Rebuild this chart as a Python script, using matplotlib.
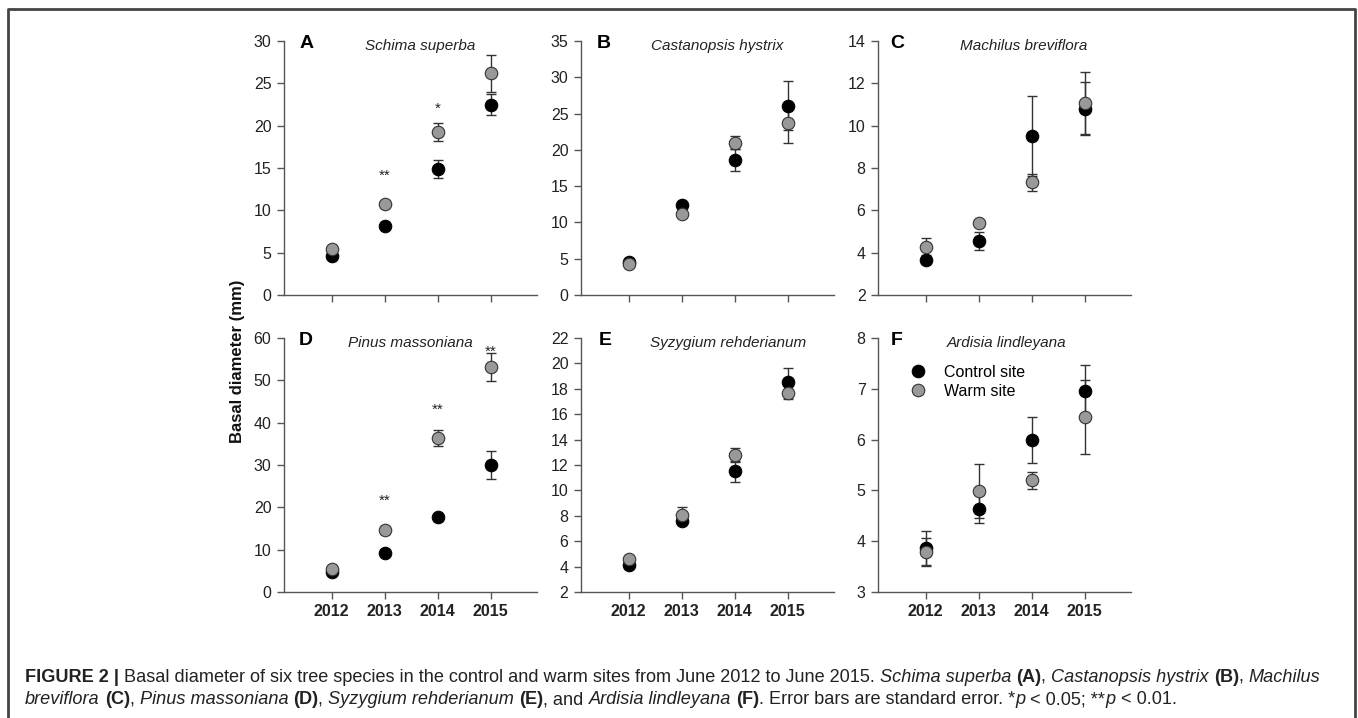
import matplotlib
matplotlib.use('Agg')
import matplotlib.pyplot as plt
import matplotlib.transforms as mtransforms
from matplotlib.lines import Line2D

plt.rcParams['font.family'] = ['Liberation Sans', 'DejaVu Sans']

years = [2012, 2013, 2014, 2015]
letters = ['A', 'B', 'C', 'D', 'E', 'F']
species = ['Schima superba', 'Castanopsis hystrix', 'Machilus breviflora',
           'Pinus massoniana', 'Syzygium rehderianum', 'Ardisia lindleyana']

# means and standard errors, one row per panel (A..F)
control_mean = [[4.6, 8.1, 14.9, 22.5],
                [4.6, 12.4, 18.6, 26.1],
                [3.67, 4.55, 9.5, 10.8],
                [4.7, 9.3, 17.6, 30.0],
                [4.1, 7.6, 11.5, 18.5],
                [3.87, 4.63, 5.99, 6.96]]
control_se = [[0.2, 0.3, 1.05, 1.26],
              [0.2, 0.4, 1.5, 3.4],
              [0.1, 0.43, 1.89, 1.25],
              [0.4, 0.6, 0.9, 3.3],
              [0.1, 0.2, 0.8, 1.17],
              [0.33, 0.28, 0.45, 0.5]]
warm_mean = [[5.4, 10.8, 19.2, 26.2],
             [4.3, 11.2, 21.0, 23.7],
             [4.28, 5.4, 7.32, 11.07],
             [5.5, 14.6, 36.3, 53.1],
             [4.6, 8.1, 12.8, 17.7],
             [3.79, 4.98, 5.2, 6.45]]
warm_se = [[0.2, 0.3, 1.07, 2.2],
           [0.2, 0.4, 0.9, 2.75],
           [0.4, 0.1, 0.41, 1.45],
           [0.4, 0.8, 1.85, 3.3],
           [0.1, 0.63, 0.55, 0.5],
           [0.27, 0.53, 0.17, 0.73]]

y_limits = [(0, 30), (0, 35), (2, 14), (0, 60), (2, 22), (3, 8)]
y_steps = [5, 5, 2, 10, 2, 1]

# significance marks: (year, height, label)
sig_marks = [[(2013, 14.1, '**'), (2014, 22.0, '*')],
             [], [],
             [(2013, 21.5, '**'), (2014, 43.1, '**'), (2015, 56.7, '**')],
             [], []]

fig = plt.figure(figsize=(13.58, 7.18), dpi=100)
W, H = 1358, 718

# outer frame (top, left, right)
fig.add_artist(Line2D([8 / W, 8 / W, 1355 / W, 1355 / W], [0, 1 - 8.5 / H, 1 - 8.5 / H, 0],
                      transform=fig.transFigure, color='#444444', lw=2))

lefts = [284, 581, 878]
tops = [41, 338]
aw, ah = 253, 254
letter_x = [0.09, 0.09, 0.075, 0.087, 0.095, 0.075]
name_x = [0.54, 0.54, 0.575, 0.50, 0.58, 0.51]

axes = []
for i in range(6):
    r, c = divmod(i, 3)
    ax = fig.add_axes([lefts[c] / W, 1 - (tops[r] + ah) / H, aw / W, ah / H])
    axes.append(ax)
    ax.errorbar(years, control_mean[i], yerr=control_se[i], fmt='none',
                ecolor='#333333', elinewidth=1, capsize=3.5, capthick=1, zorder=2)
    ax.errorbar(years, warm_mean[i], yerr=warm_se[i], fmt='none',
                ecolor='#333333', elinewidth=1, capsize=3.5, capthick=1, zorder=2)
    ax.plot(years, control_mean[i], 'o', ms=9, mfc='black', mec='black',
            mew=0.8, ls='none', zorder=3, label='Control site')
    ax.plot(years, warm_mean[i], 'o', ms=9, mfc='#999999', mec='#333333',
            mew=0.8, ls='none', zorder=4, label='Warm site')
    lo, hi = y_limits[i]
    ax.set_ylim(lo, hi)
    ax.set_yticks(range(lo, hi + 1, y_steps[i]))
    ax.set_xlim(2011.1, 2015.87)
    ax.set_xticks(years)
    if r == 1:
        ax.set_xticklabels([str(y) for y in years], fontweight='bold', fontsize=11.5)
    else:
        ax.set_xticklabels([])
    for s in ['top', 'right']:
        ax.spines[s].set_visible(False)
    for s in ['left', 'bottom']:
        ax.spines[s].set_color('#555555')
        ax.spines[s].set_linewidth(1)
    ax.tick_params(direction='out', length=5, width=1, color='#555555',
                   labelsize=11.5, labelcolor='#222222', pad=4)
    ax.text(letter_x[i], 0.99, letters[i], transform=ax.transAxes, fontsize=14,
            fontweight='bold', ha='center', va='center', color='black')
    ax.text(name_x[i], 0.98, species[i], transform=ax.transAxes, fontsize=11,
            fontstyle='italic', ha='center', va='center', color='#222222')
    for yr, yv, lab in sig_marks[i]:
        ax.text(yr, yv, lab, fontsize=11, ha='center', va='center', color='#222222')

axes[5].legend(loc='upper left', bbox_to_anchor=(0.095, 0.92), frameon=False,
               fontsize=11.5, handlelength=1.2, handletextpad=1.0, labelspacing=0.25,
               borderaxespad=0)

fig.text(238 / W, 1 - 361 / H, 'Basal diameter (mm)', rotation=90, fontsize=12,
         fontweight='bold', ha='center', va='center', color='#111111')

# caption with mixed styles
line1 = [('FIGURE 2 | ', 'b'),
         ('Basal diameter of six tree species in the control and warm sites from June 2012 to June 2015. ', 'n'),
         ('Schima superba', 'i'), (' ', 'n'), ('(A)', 'b'), (', ', 'n'),
         ('Castanopsis hystrix', 'i'), (' ', 'n'), ('(B)', 'b'), (', ', 'n'),
         ('Machilus', 'i')]
line2 = [('breviflora', 'i'), (' ', 'n'), ('(C)', 'b'), (', ', 'n'),
         ('Pinus massoniana', 'i'), (' ', 'n'), ('(D)', 'b'), (', ', 'n'),
         ('Syzygium rehderianum', 'i'), (' ', 'n'), ('(E)', 'b'), (', and ', 'n'),
         ('Ardisia lindleyana', 'i'), (' ', 'n'), ('(F)', 'b'),
         ('. Error bars are standard error. *', 'n'), ('p', 'i'), (' < 0.05; **', 'n'),
         ('p', 'i'), (' < 0.01.', 'n')]

renderer = fig.canvas.get_renderer()
ident = mtransforms.IdentityTransform()


def text_width(s, kw):
    # measure with guard chars so spaces count
    t1 = fig.text(0, 0, '|' + s + '|', transform=ident, **kw)
    t2 = fig.text(0, 0, '||', transform=ident, **kw)
    w = t1.get_window_extent(renderer).width - t2.get_window_extent(renderer).width
    t1.remove()
    t2.remove()
    return w


def draw_line(runs, x0, y_top, size):
    x = x0
    for s, st in runs:
        kw = dict(fontsize=size, color='#222222',
                  fontweight='bold' if st == 'b' else 'normal',
                  fontstyle='italic' if st == 'i' else 'normal')
        fig.text(x, H - y_top, s, transform=ident, va='center', ha='left', **kw)
        x += text_width(s, kw)


draw_line(line1, 25, 677, 13.1)
draw_line(line2, 25, 700, 13.1)

fig.savefig('out.png', dpi=100, facecolor='white')
